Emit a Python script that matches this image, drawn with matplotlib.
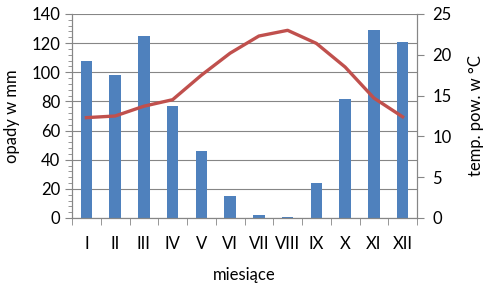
import matplotlib.pyplot as plt
import numpy as np
from matplotlib.ticker import MultipleLocator

plt.rcParams['font.family'] = ['Lato', 'DejaVu Sans']

# dane klimatyczne
months = ["I", "II", "III", "IV", "V", "VI", "VII", "VIII", "IX", "X", "XI", "XII"]
rain = [108, 98, 125, 77, 46, 15, 2, 1, 24, 82, 129, 121]
temp = [12.3, 12.5, 13.7, 14.5, 17.5, 20.2, 22.3, 23.0, 21.4, 18.5, 14.7, 12.4]

grey = "#868686"
fs = 12
fig = plt.figure(figsize=(4.83, 2.85), dpi=100)
ax = fig.add_axes([72 / 483, 1 - 218 / 285, 345 / 483, 204 / 285])
x = np.arange(len(months))

ax.bar(x, rain, width=0.4, color="#4F81BD", zorder=2)
ax.set_ylim(0, 140)
ax.set_xlim(-0.5, 11.5)
ax.yaxis.set_major_locator(MultipleLocator(20))
ax.yaxis.set_minor_locator(MultipleLocator(4))
ax.grid(axis="y", color=grey, lw=0.8, zorder=0)
ax.set_xticks(x)
ax.set_xticklabels(months)
ax.set_xticks(np.arange(-0.5, 12, 1), minor=True)
ax.tick_params(axis="x", which="major", length=0, pad=13, labelsize=fs)
ax.tick_params(axis="x", which="minor", length=5, color=grey)
ax.tick_params(axis="y", which="both", color=grey, labelsize=fs)
ax.tick_params(axis="y", which="major", length=5)
ax.tick_params(axis="y", which="minor", length=3)
ax.set_ylabel("opady w mm", fontsize=fs, labelpad=8)
ax.set_xlabel("miesiące", fontsize=fs, labelpad=11)
ax.spines["top"].set_visible(False)
for s in ["left", "bottom", "right"]:
    ax.spines[s].set_color(grey)

ax2 = ax.twinx()
ax2.plot(x, temp, color="#C0504D", lw=2.4, zorder=3)
ax2.set_ylim(0, 25)
ax2.yaxis.set_major_locator(MultipleLocator(5))
ax2.tick_params(axis="y", color=grey, length=5, pad=6, labelsize=fs)
ax2.set_ylabel("temp. pow. w °C", fontsize=fs, labelpad=12)
ax2.spines["top"].set_visible(False)
for s in ["left", "bottom", "right"]:
    ax2.spines[s].set_color(grey)

fig.savefig("out.png", dpi=100)
